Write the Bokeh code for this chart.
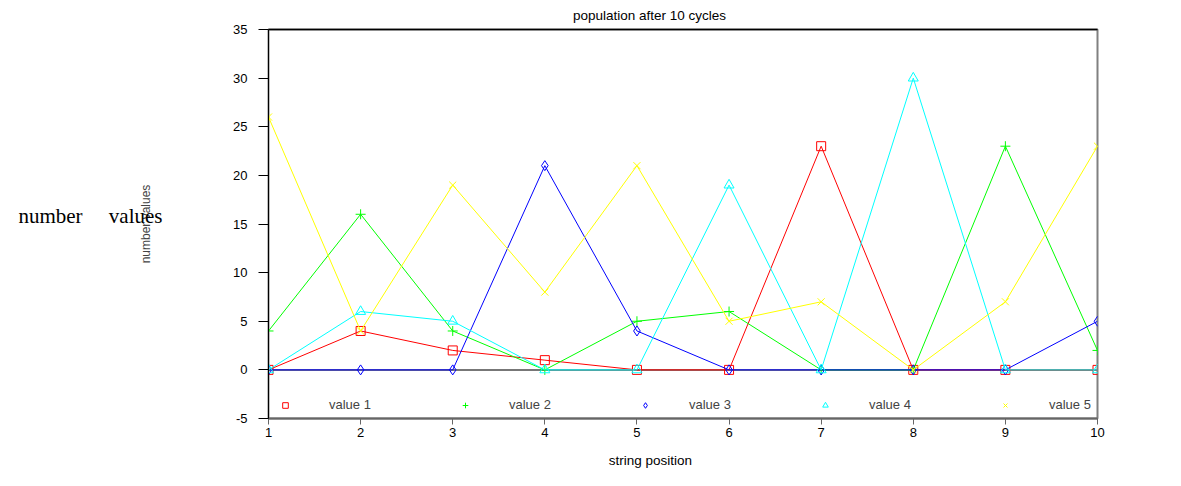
from bokeh.plotting import figure
from bokeh.models import (Span, FixedTicker, Legend, LegendItem, Range1d,
                          PrintfTickFormatter, LinearAxis)
from bokeh.embed import file_html
from bokeh.resources import INLINE

positions = [1, 2, 3, 4, 5, 6, 7, 8, 9, 10]
value1 = [0, 4, 2, 1, 0, 0, 23, 0, 0, 0]
value2 = [4, 16, 4, 0, 5, 6, 0, 0, 23, 2]
value3 = [0, 0, 0, 21, 4, 0, 0, 0, 0, 5]
value4 = [0, 6, 5, 0, 0, 19, 0, 30, 0, 0]
value5 = [26, 4, 19, 8, 21, 5, 7, 0, 7, 23]
series_names = ["value 1", "value 2", "value 3", "value 4", "value 5"]
y_ticks = [-5, 0, 5, 10, 15, 20, 25, 30, 35]

subtitle = "population after 10 cycles"
x_title = "string position"
y_title = "number values"
side_note = "number\u00a0\u00a0\u00a0\u00a0\u00a0values"

# anchor points (layout only) for texts carried by bare axes
SUBTITLE_AT = 5.136
XTITLE_AT = 5.147
SIDENOTE_AT = 15.8

FONT = "Liberation Sans"

p = figure(width=1181, height=486, x_range=Range1d(1, 10), y_range=Range1d(-5, 35),
           output_backend="svg", toolbar_location=None,
           min_border_left=268, min_border_right=84, min_border_top=29, min_border_bottom=68)
p.xgrid.visible = False
p.ygrid.visible = False
p.outline_line_color = "#808080"
p.outline_line_width = 2

# main axes
p.yaxis.ticker = FixedTicker(ticks=y_ticks)
p.xaxis.ticker = FixedTicker(ticks=positions)
p.yaxis.formatter = PrintfTickFormatter(format="%d")
p.xaxis.formatter = PrintfTickFormatter(format="%d")
for ax in (p.xaxis[0], p.yaxis[0]):
    ax.major_label_text_font = FONT
    ax.major_label_text_font_size = "13px"
    ax.major_label_text_color = "#000000"
    ax.minor_tick_line_color = None
    ax.major_tick_in = 0
p.yaxis.axis_line_color = "#000000"
p.yaxis.major_tick_line_color = "#000000"
p.yaxis.major_tick_out = 10
p.yaxis.major_label_standoff = 11
p.yaxis.axis_label = y_title
p.yaxis.axis_label_text_font = FONT
p.yaxis.axis_label_text_font_size = "12px"
p.yaxis.axis_label_text_font_style = "normal"
p.yaxis.axis_label_standoff = 77
p.xaxis.axis_line_color = "#666666"
p.xaxis.axis_line_width = 2
p.xaxis.major_tick_line_color = "#666666"
p.xaxis.major_tick_out = 6
p.xaxis.major_label_standoff = 3

# top border line carrying the subtitle
top = LinearAxis(ticker=FixedTicker(ticks=[SUBTITLE_AT]), axis_line_color="#000000", axis_line_width=1.5,
                 major_tick_line_color=None, minor_tick_line_color=None, major_tick_in=0, major_tick_out=0,
                 major_label_overrides={SUBTITLE_AT: subtitle}, major_label_standoff=7,
                 major_label_text_font=FONT, major_label_text_font_size="13.5px",
                 major_label_text_color="#000000")
p.add_layout(top, "above")

# x title as a second bare bottom axis
xt = LinearAxis(ticker=FixedTicker(ticks=[XTITLE_AT]), axis_line_color=None,
                major_tick_line_color=None, minor_tick_line_color=None, major_tick_in=0, major_tick_out=0,
                major_label_overrides={XTITLE_AT: x_title}, major_label_standoff=13,
                major_label_text_font=FONT, major_label_text_font_size="13.5px",
                major_label_text_color="#000000")
p.add_layout(xt, "below")

# serif side note as a second bare left axis
sn = LinearAxis(ticker=FixedTicker(ticks=[SIDENOTE_AT]), axis_line_color=None,
                major_tick_line_color=None, minor_tick_line_color=None, major_tick_in=0, major_tick_out=0,
                major_label_overrides={SIDENOTE_AT: side_note}, major_label_standoff=-26,
                major_label_text_font="Liberation Serif", major_label_text_font_size="21px",
                major_label_text_color="#000000")
p.add_layout(sn, "left")

p.add_layout(Span(location=0, dimension="width", line_color="#777777", line_width=2, level="underlay"))

colors = ["#ff0000", "#00ff00", "#0000ff", "#00ffff", "#ffff00"]
markers = ["square", "cross", "diamond", "triangle", "x"]
sizes = [9, 10, 10, 10, 10]
data = [value1, value2, value3, value4, value5]
items = []
for name, ys, c, m, s in zip(series_names, data, colors, markers, sizes):
    p.line(positions, ys, line_color=c, line_width=1)
    r = p.scatter(positions, ys, marker=m, size=s, fill_color=None, line_color=c, line_width=1)
    items.append(LegendItem(label=name, renderers=[r]))

legend = Legend(items=items, location=(10, 6), orientation="horizontal",
                glyph_width=14, glyph_height=14, label_height=14,
                label_standoff=37, label_width=50, spacing=79, padding=0, margin=0,
                border_line_color=None, background_fill_alpha=0,
                label_text_font=FONT, label_text_font_size="13px")
p.add_layout(legend)

open("out.html", "w").write(file_html(p, INLINE))
